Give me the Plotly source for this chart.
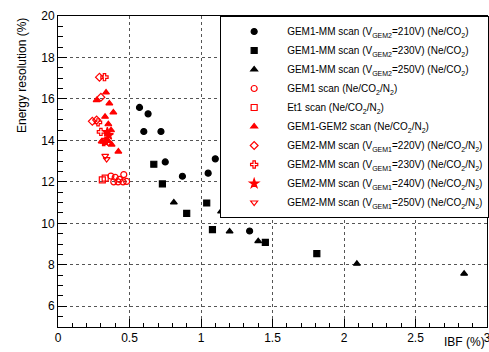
import plotly.graph_objects as go

# ---------------- data ----------------
gem1mm_210_x = [0.57, 0.63, 0.60, 0.72, 0.75, 0.87, 1.05, 1.10, 1.34]
gem1mm_210_y = [15.59, 15.28, 14.43, 14.43, 12.96, 12.27, 12.42, 13.11, 9.63]

gem1mm_230_x = [0.67, 0.73, 0.90, 1.04, 1.08, 1.45, 1.81]
gem1mm_230_y = [12.85, 11.90, 10.48, 10.98, 9.70, 9.08, 8.54]

gem1mm_250_x = [0.81, 1.14, 1.20, 1.40, 2.09, 2.84]
gem1mm_250_y = [11.01, 10.57, 9.61, 9.14, 8.05, 7.57]

gem1_x = [0.37, 0.40, 0.43, 0.46, 0.39, 0.42, 0.455, 0.48]
gem1_y = [12.28, 12.22, 12.12, 12.35, 12.00, 12.00, 12.00, 12.02]

et1_x = [0.31, 0.33]
et1_y = [12.10, 12.18]

gem12_x = [0.336, 0.27, 0.359, 0.387, 0.329, 0.352, 0.371, 0.305, 0.35, 0.375, 0.422]
gem12_y = [16.31, 15.94, 15.78, 15.35, 15.14, 14.78, 14.49, 13.95, 13.98, 13.80, 13.46]

gem2mm_220_x = [0.29, 0.30, 0.24, 0.27]
gem2mm_220_y = [17.05, 16.08, 14.92, 14.98]

gem2mm_230_x = [0.325, 0.28, 0.30, 0.32]
gem2mm_230_y = [17.05, 14.87, 14.41, 13.92]

gem2mm_240_x = [0.345, 0.355, 0.33]
gem2mm_240_y = [14.40, 14.25, 13.95]

gem2mm_250_x = [0.33, 0.34]
gem2mm_250_y = [13.25, 13.10]

names = [
    "GEM1-MM scan (V<sub>GEM2</sub>=210V) (Ne/CO<sub>2</sub>)",
    "GEM1-MM scan (V<sub>GEM2</sub>=230V) (Ne/CO<sub>2</sub>)",
    "GEM1-MM scan (V<sub>GEM2</sub>=250V) (Ne/CO<sub>2</sub>)",
    "GEM1 scan (Ne/CO<sub>2</sub>/N<sub>2</sub>)",
    "Et1 scan (Ne/CO<sub>2</sub>/N<sub>2</sub>)",
    "GEM1-GEM2 scan (Ne/CO<sub>2</sub>/N<sub>2</sub>)",
    "GEM2-MM scan (V<sub>GEM1</sub>=220V) (Ne/CO<sub>2</sub>/N<sub>2</sub>)",
    "GEM2-MM scan (V<sub>GEM1</sub>=230V) (Ne/CO<sub>2</sub>/N<sub>2</sub>)",
    "GEM2-MM scan (V<sub>GEM1</sub>=240V) (Ne/CO<sub>2</sub>/N<sub>2</sub>)",
    "GEM2-MM scan (V<sub>GEM1</sub>=250V) (Ne/CO<sub>2</sub>/N<sub>2</sub>)",
]

series = [
    (gem1mm_210_x, gem1mm_210_y, "circle", "black", 6),
    (gem1mm_230_x, gem1mm_230_y, "square", "black", 6),
    (gem1mm_250_x, gem1mm_250_y, "triangle-up", "black", 6),
    (gem1_x, gem1_y, "circle-open", "red", 6),
    (et1_x, et1_y, "square-open", "red", 6),
    (gem12_x, gem12_y, "triangle-up", "red", 6),
    (gem2mm_220_x, gem2mm_220_y, "diamond-open", "red", 6),
    (gem2mm_230_x, gem2mm_230_y, "cross-open", "red", 6),
    (gem2mm_240_x, gem2mm_240_y, "star", "red", 7),
    (gem2mm_250_x, gem2mm_250_y, "triangle-down-open", "red", 6),
]

FONT = "Liberation Sans, Arial, Helvetica, sans-serif"

fig = go.Figure()
for (xs, ys, sym, col, sz), nm in zip(series, names):
    fig.add_trace(go.Scatter(
        x=xs, y=ys, mode="markers", name=nm,
        marker=dict(symbol=sym, color=col, size=sz, line=dict(color=col, width=1.2)),
    ))

axis_common = dict(
    showline=True, linecolor="black", linewidth=1, mirror=True,
    ticks="inside", tickcolor="black", tickwidth=1,
    showgrid=True, gridcolor="#555555", griddash="dot", gridwidth=1,
    zeroline=False, ticklabeloverflow="allow",
    tickfont=dict(family=FONT, size=12, color="black"),
)

fig.update_layout(
    width=489, height=352,
    margin=dict(l=58, r=2, t=16, b=25, autoexpand=False),
    paper_bgcolor="white", plot_bgcolor="white",
    font=dict(family=FONT, color="black"),
    xaxis=dict(range=[0, 3], tick0=0, dtick=0.5, ticklen=8,
               minor=dict(dtick=0.1, ticklen=4, ticks="inside", tickcolor="black", showgrid=False),
               **axis_common),
    yaxis=dict(range=[5, 20], tick0=0, dtick=2, ticklen=9,
               minor=dict(dtick=0.5, ticklen=5, ticks="inside", tickcolor="black", showgrid=False),
               **axis_common),
    legend=dict(
        x=0.378, y=1.0, xanchor="left", yanchor="top",
        bgcolor="white", bordercolor="black", borderwidth=1,
        font=dict(family=FONT, size=10, color="black"),
        itemwidth=56, tracegroupgap=0,
    ),
    annotations=[
        dict(text="Energy resolution (%)", xref="paper", yref="paper",
             x=-0.085, y=1.0, xanchor="center", yanchor="top", textangle=-90,
             showarrow=False, font=dict(family=FONT, size=12, color="black")),
        dict(text="IBF (%)", xref="paper", yref="paper",
             x=1.0, y=-0.077, xanchor="right", yanchor="bottom",
             showarrow=False, font=dict(family=FONT, size=12, color="black")),
    ],
)

fig.write_html("out.html", config={"displayModeBar": False},
               post_script="document.body.style.margin='0';")
